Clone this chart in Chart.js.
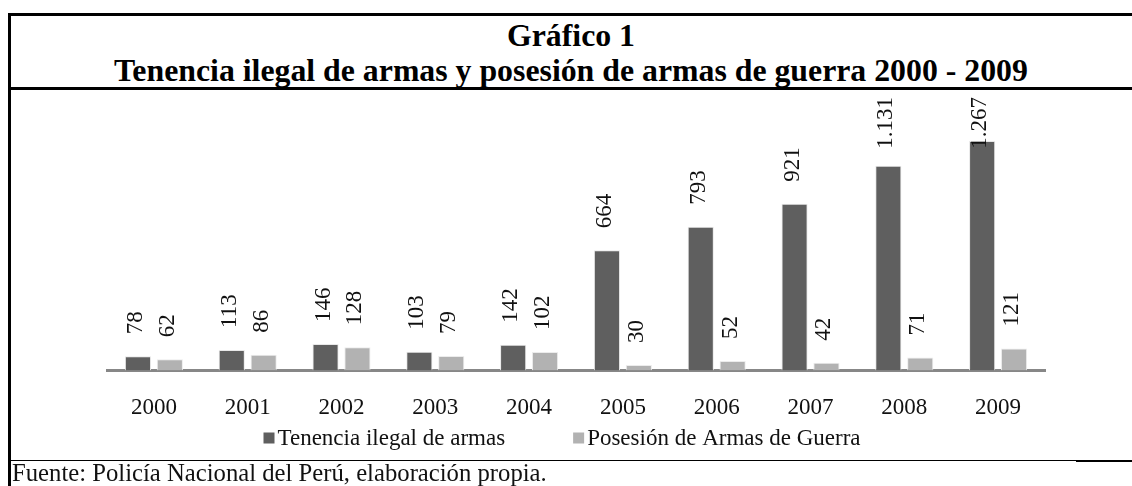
<!DOCTYPE html>
<html>
<head>
<meta charset="utf-8">
<script src="https://cdn.jsdelivr.net/npm/chart.js@4"></script>
<style>
  html, body { margin: 0; padding: 0; background: #fff; }
  body { width: 1132px; height: 486px; position: relative; overflow: hidden; font-family: "Liberation Serif", "Times New Roman", serif; }
  .line { position: absolute; background: #000; }
  .title { position: absolute; left: 10px; width: 1122px; text-align: center; font-weight: bold; font-size: 31.8px; color: #000; line-height: 35px; white-space: nowrap; }
  #wrap { position: absolute; left: 10px; top: 90px; width: 1122px; height: 370px; }
  .src { position: absolute; left: 12px; top: 459px; font-size: 24.7px; line-height: 28px; color: #111; white-space: nowrap; }
</style>
</head>
<body>
<div class="line" style="left:8px; top:13px; width:1124px; height:3px;"></div>
<div class="line" style="left:8px; top:13px; width:3px; height:473px;"></div>
<div class="line" style="left:8px; top:87px; width:1124px; height:3px;"></div>
<div class="line" style="left:8px; top:460px; width:1068px; height:1px;"></div>
<div class="line" style="left:1076px; top:460px; width:56px; height:2px;"></div>
<div class="title" style="top:18px;">Gráfico 1</div>
<div class="title" style="top:53px;">Tenencia ilegal de armas y posesión de armas de guerra 2000 - 2009</div>
<div id="wrap"><canvas id="chart"></canvas></div>
<div class="src">Fuente: Policía Nacional del Perú, elaboración propia.</div>
<script>
const years = ['2000', '2001', '2002', '2003', '2004', '2005', '2006', '2007', '2008', '2009'];
const tenencia = [78, 113, 146, 103, 142, 664, 793, 921, 1131, 1267];
const posesion = [62, 86, 128, 79, 102, 30, 52, 42, 71, 121];
const seriesNames = ['Tenencia ilegal de armas', 'Posesión de Armas de Guerra'];
const colors = ['#5f5f5f', '#b2b2b2'];

const serif = '"Liberation Serif", "Times New Roman", serif';

function fmt(v) {
    return String(v).replace(/\B(?=(\d{3})+(?!\d))/g, '.');
}

// rotated value labels above each bar
const barLabels = {
    id: 'barLabels',
    afterDatasetsDraw(chart) {
        const ctx = chart.ctx;
        ctx.save();
        ctx.font = '23px ' + serif;
        ctx.fillStyle = '#111';
        ctx.textAlign = 'left';
        ctx.textBaseline = 'middle';
        chart.data.datasets.forEach((ds, di) => {
            chart.getDatasetMeta(di).data.forEach((bar, i) => {
                const txt = fmt(ds.data[i]);
                const w = ctx.measureText(txt).width;
                let y = bar.y - 22;
                if (y - w < 7) y = 7 + w;
                ctx.save();
                ctx.translate(bar.x - 2, y);
                ctx.rotate(-Math.PI / 2);
                ctx.fillText(txt, 0, 0);
                ctx.restore();
            });
        });
        ctx.restore();
    }
};

// legend drawn below the axis labels
const bottomLegend = {
    id: 'bottomLegend',
    afterDraw(chart) {
        const ctx = chart.ctx;
        ctx.save();
        ctx.font = '23px ' + serif;
        ctx.textBaseline = 'middle';
        const box = 11, gap = 3, spacing = 68;
        const widths = seriesNames.map(n => ctx.measureText(n).width);
        const total = widths.reduce((a, b) => a + b, 0) + 2 * (box + gap) + spacing;
        let x = 552 - total / 2;
        const y = 348;
        seriesNames.forEach((n, i) => {
            ctx.fillStyle = colors[i];
            ctx.fillRect(x, y - box / 2, box, box);
            x += box + gap;
            ctx.fillStyle = '#111';
            ctx.fillText(n, x, y + 1);
            x += widths[i] + spacing;
        });
        ctx.restore();
    }
};

new Chart(document.getElementById('chart'), {
    type: 'bar',
    data: {
        labels: years,
        datasets: [
            { label: seriesNames[0], data: tenencia, backgroundColor: colors[0], borderColor: '#e8e8e8', borderWidth: { top: 1, left: 1, right: 1 } },
            { label: seriesNames[1], data: posesion, backgroundColor: colors[1], borderColor: '#ececec', borderWidth: { top: 1, left: 1, right: 1 } }
        ]
    },
    options: {
        responsive: true,
        maintainAspectRatio: false,
        animation: false,
        categoryPercentage: 0.68,
        barPercentage: 0.82,
        layout: { padding: { top: 27, left: 97, right: 87, bottom: 14 } },
        plugins: { legend: { display: false }, tooltip: { enabled: false } },
        scales: {
            x: {
                grid: { display: false, drawTicks: false },
                border: { display: true, color: '#878787', width: 3 },
                ticks: { color: '#111', padding: 24, font: { family: serif, size: 23 } }
            },
            y: { display: false, min: 0, max: 1400 }
        }
    },
    plugins: [barLabels, bottomLegend]
});
</script>
</body>
</html>
